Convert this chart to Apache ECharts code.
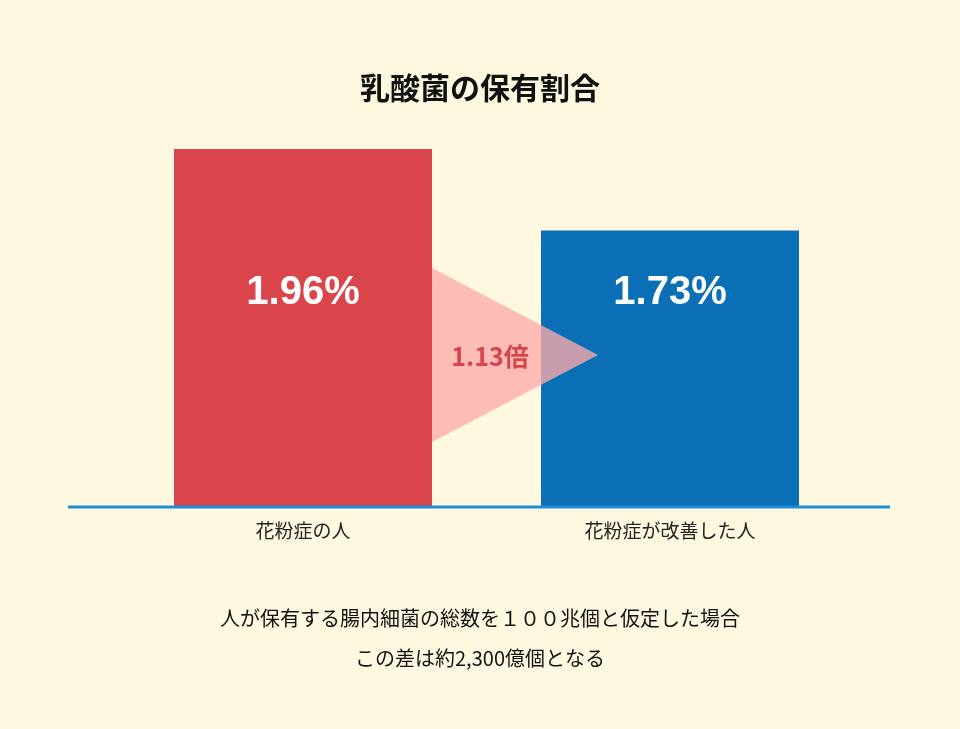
<!DOCTYPE html><html><head><meta charset="utf-8"><script src="https://cdn.jsdelivr.net/npm/echarts@6/dist/echarts.min.js"></script></head><body style="margin:0;background:#fef8e0"><div id="c" style="width:960px;height:729px"></div><script>
const categories=['花粉症の人','花粉症が改善した人'];
const values=[1.96,1.73];
const labels=['1.96%','1.73%'];
const colors=['#d9454a','#0a6fb5'];
const ratioText='1.13倍';
const F='"Noto Sans CJK JP",sans-serif';
const c=echarts.init(document.getElementById('c'));
c.setOption({backgroundColor:'#fef8e0',
title:{text:'乳酸菌の保有割合',left:'center',top:68,textStyle:{fontFamily:F,fontSize:30,fontWeight:'bold',color:'#111'}},
grid:{left:119.5,right:106.5,top:149,bottom:222},
xAxis:{type:'category',data:categories,axisLine:{show:false},axisTick:{show:false},axisLabel:{fontFamily:F,fontSize:19,color:'#222',margin:14}},
yAxis:{type:'value',min:0.95,max:1.96,show:false},
series:[{type:'bar',barWidth:258,z:2,data:values.map((v,i)=>({value:v,itemStyle:{color:colors[i]},label:{show:true,position:'insideTop',distance:i?42:124,formatter:labels[i],color:'#fff',fontSize:40,fontWeight:'bold',fontFamily:'Liberation Sans'}}))}],
graphic:[
{type:'line',z:10,shape:{x1:68,y1:507,x2:890,y2:507},style:{stroke:'#1a8fd8',lineWidth:3}},
{type:'polygon',z:10,shape:{points:[[432,268],[432,442],[598,355]]},style:{fill:'rgba(252,170,170,0.78)'}},
{type:'text',z:11,x:490,y:356,style:{text:ratioText,fill:'#d9454a',font:'bold 25px '+F,align:'center',verticalAlign:'middle'}},
{type:'text',z:11,x:480,y:618,style:{text:'人が保有する腸内細菌の総数を１００兆個と仮定した場合',fill:'#111',font:'20px '+F,align:'center',verticalAlign:'middle'}},
{type:'text',z:11,x:480,y:658,style:{text:'この差は約2,300億個となる',fill:'#111',font:'20px '+F,align:'center',verticalAlign:'middle'}}
]});
</script></body></html>
